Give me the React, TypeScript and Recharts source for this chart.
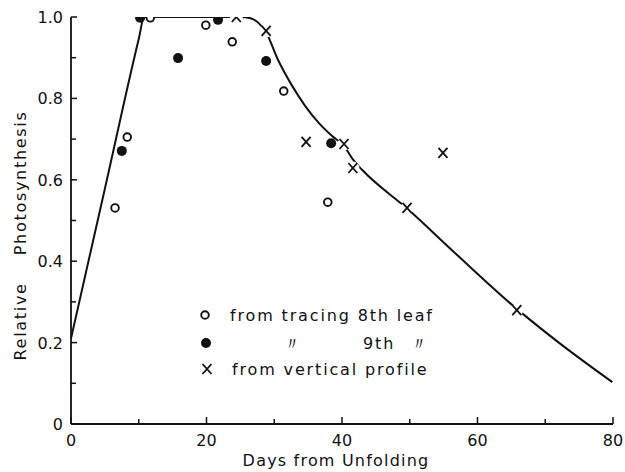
import React from "react";
import {
  ComposedChart,
  Line,
  Scatter,
  XAxis,
  YAxis,
  Legend,
} from "recharts";

// Fitted curve of relative photosynthesis vs. leaf age (days)
const curveDays = [0, 5, 10, 10.8, 25, 26.5, 27.7, 28.8, 30.6, 32.6, 34.5, 36.5, 38.5, 40.3, 41.6, 43, 49.7, 57, 64.8, 72, 79.9];
const curveValues = [0.21, 0.578, 0.946, 1.0, 1.0, 0.997, 0.985, 0.962, 0.893, 0.832, 0.783, 0.741, 0.708, 0.683, 0.65, 0.624, 0.528, 0.415, 0.297, 0.2, 0.103];

// Observations from tracing the 8th leaf
const leaf8Days = [6.5, 8.3, 11.7, 19.9, 23.8, 31.4, 37.9];
const leaf8Values = [0.531, 0.705, 0.998, 0.98, 0.939, 0.818, 0.545];

// Observations from tracing the 9th leaf
const leaf9Days = [7.5, 10.2, 15.8, 21.7, 28.8, 38.4];
const leaf9Values = [0.671, 0.998, 0.899, 0.993, 0.892, 0.69];

// Observations from the vertical profile
const profileDays = [24.4, 28.8, 34.7, 40.3, 41.6, 49.6, 54.9, 65.8];
const profileValues = [1.0, 0.966, 0.693, 0.688, 0.629, 0.531, 0.666, 0.28];

const xTicks = [0, 10, 20, 30, 40, 50, 60, 70, 80];
const yTicks = [0, 0.1, 0.2, 0.3, 0.4, 0.5, 0.6, 0.7, 0.8, 0.9, 1.0];

const xTitle = "Days from Unfolding";
const yTitle = "Relative    Photosynthesis";
const legendText8 = "from tracing 8th leaf";
const legendDitto = "\u3003";
const legendText9 = "9th";
const legendTextProfile = "from vertical profile";

const zip = (xs: number[], ys: number[]) => xs.map((x, i) => ({ x, y: ys[i] }));

const curveData = zip(curveDays, curveValues);
const leaf8Data = zip(leaf8Days, leaf8Values);
const leaf9Data = zip(leaf9Days, leaf9Values);
const profileData = zip(profileDays, profileValues);

const FONT = "'DejaVu Sans', sans-serif";
const INK = "#111";

const OpenCircle = ({ cx, cy }: any) => (
  <circle cx={cx} cy={cy} r={3.8} fill="#fff" stroke={INK} strokeWidth={1.9} />
);

const FilledCircle = ({ cx, cy }: any) => (
  <circle cx={cx} cy={cy} r={5} fill={INK} />
);

const Cross = ({ cx, cy }: any) => (
  <g>
    <circle cx={cx} cy={cy} r={6.5} fill="#fff" />
    <line x1={cx - 4.5} y1={cy - 5} x2={cx + 4.5} y2={cy + 5} stroke={INK} strokeWidth={1.8} />
    <line x1={cx + 4.5} y1={cy - 5} x2={cx - 4.5} y2={cy + 5} stroke={INK} strokeWidth={1.8} />
  </g>
);

const XTick = ({ x, y, payload }: any) => {
  const v = payload.value as number;
  const major = v % 20 === 0;
  return (
    <g>
      <line x1={x} y1={y} x2={x} y2={y - (major ? 7 : 5)} stroke={INK} strokeWidth={1.5} />
      {major && (
        <text x={x} y={y + 22} textAnchor="middle" fontFamily={FONT} fontSize={16} fill={INK}>
          {v}
        </text>
      )}
    </g>
  );
};

const YTick = ({ x, y, payload }: any) => {
  const v = payload.value as number;
  const k = Math.round(v * 10);
  const major = k % 2 === 0;
  const label = k === 0 ? "0" : (k / 10).toFixed(1);
  return (
    <g>
      <line x1={x} y1={y} x2={x + (major ? 6 : 5)} y2={y} stroke={INK} strokeWidth={1.5} />
      {major && (
        <text x={x - 8} y={y + 6} textAnchor="end" fontFamily={FONT} fontSize={16} fill={INK}>
          {label}
        </text>
      )}
    </g>
  );
};

const legendStyle = { fontFamily: FONT, fontSize: 16, fill: INK, letterSpacing: 1.85 } as const;

const LegendBox = () => (
  <svg width={270} height={80} style={{ overflow: "visible" }}>
    <OpenCircle cx={15} cy={15} />
    <text x={40} y={21} {...legendStyle}>{legendText8}</text>
    <FilledCircle cx={16} cy={43} />
    <text x={103} y={50} textAnchor="middle" {...legendStyle} fontSize={18}>{legendDitto}</text>
    <text x={173} y={49} {...legendStyle}>{legendText9}</text>
    <text x={230} y={50} textAnchor="middle" {...legendStyle} fontSize={18}>{legendDitto}</text>
    <Cross cx={17} cy={69} />
    <text x={42} y={75} {...legendStyle}>{legendTextProfile}</text>
  </svg>
);

export default function App() {
  return (
    <div style={{ position: "absolute", left: 0, top: 0, background: "#fff" }}>
      <ComposedChart
        width={625}
        height={472}
        margin={{ top: 17, right: 12, left: 0, bottom: 0 }}
      >
        <XAxis
          type="number"
          dataKey="x"
          domain={[0, 80]}
          ticks={xTicks}
          interval={0}
          height={48}
          tickSize={0}
          tickMargin={0}
          tickLine={false}
          tick={<XTick />}
          axisLine={{ stroke: INK, strokeWidth: 1.8 }}
          allowDataOverflow
          label={{
            content: ({ viewBox }: any) => (
              <text
                x={viewBox.x + viewBox.width / 2 - 6}
                y={viewBox.y + 42}
                textAnchor="middle"
                fontFamily={FONT}
                fontSize={16}
                letterSpacing={1.2}
                fill={INK}
              >
                {xTitle}
              </text>
            ),
          }}
        />
        <YAxis
          type="number"
          dataKey="y"
          domain={[0, 1]}
          ticks={yTicks}
          interval={0}
          width={71}
          tickSize={0}
          tickMargin={0}
          tickLine={false}
          tick={<YTick />}
          axisLine={{ stroke: INK, strokeWidth: 1.8 }}
          allowDataOverflow
          label={{
            content: ({ viewBox }: any) => {
              const cx = 20;
              const cy = viewBox.y + viewBox.height / 2 + 15;
              return (
                <text
                  x={cx}
                  y={cy}
                  transform={`rotate(-90 ${cx} ${cy})`}
                  textAnchor="middle"
                  dominantBaseline="central"
                  fontFamily={FONT}
                  fontSize={16}
                  letterSpacing={1.7}
                  fill={INK}
                  style={{ whiteSpace: "pre" }}
                >
                  {yTitle}
                </text>
              );
            },
          }}
        />
        <Legend
          layout="vertical"
          align="center"
          verticalAlign="middle"
          content={() => <LegendBox />}
          wrapperStyle={{ left: 190, top: 300, width: 270, height: 80 }}
        />
        <Line
          data={curveData}
          dataKey="y"
          type="monotone"
          stroke={INK}
          strokeWidth={2}
          dot={false}
          activeDot={false}
          legendType="none"
          isAnimationActive={false}
        />
        <Scatter data={leaf8Data} dataKey="y" shape={<OpenCircle />} isAnimationActive={false} />
        <Scatter data={leaf9Data} dataKey="y" shape={<FilledCircle />} isAnimationActive={false} />
        <Scatter data={profileData} dataKey="y" shape={<Cross />} isAnimationActive={false} />
      </ComposedChart>
    </div>
  );
}
